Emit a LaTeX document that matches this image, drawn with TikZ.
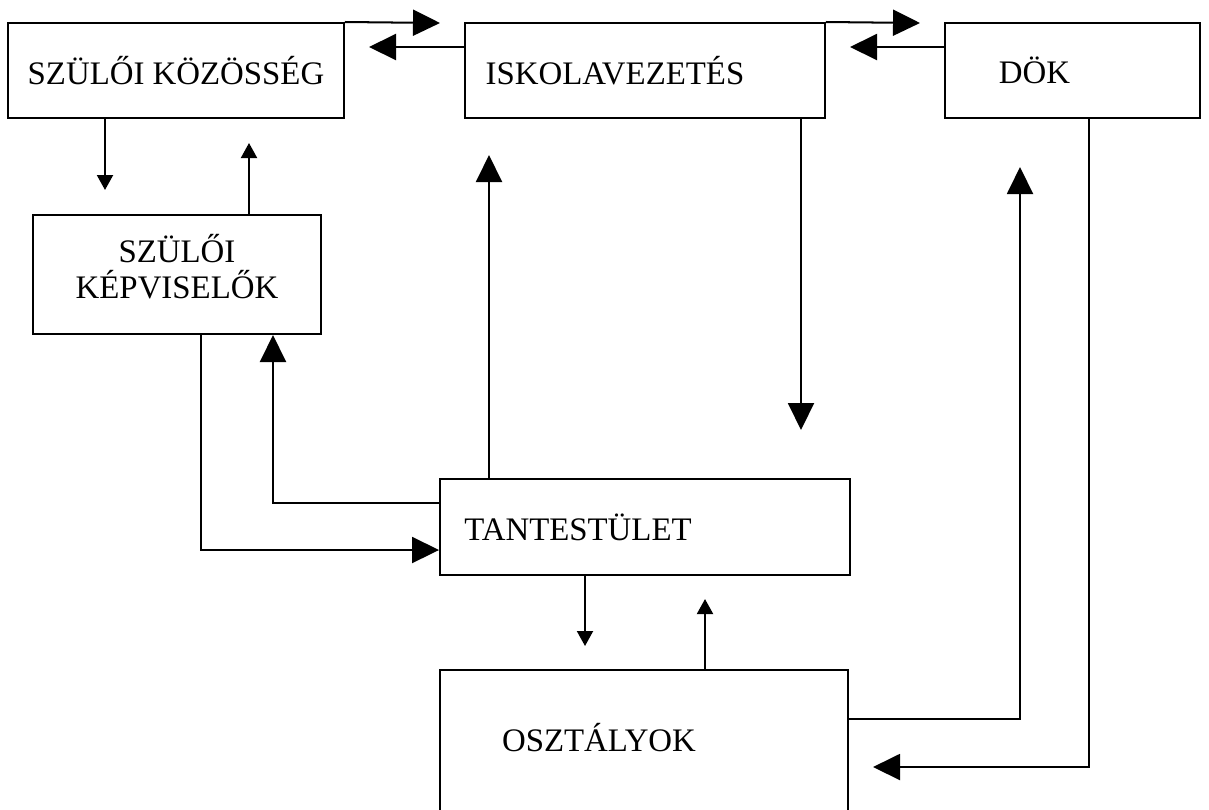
\documentclass[tikz,border=0pt]{standalone}
\usepackage{fontspec}
\setmainfont{Liberation Serif}
\usetikzlibrary{positioning, arrows.meta}

\begin{document}
\begin{tikzpicture}[x=0.02cm, y=-0.02cm, line width=1.15pt,
    font=\fontsize{18.7}{20.5}\selectfont,
    box/.style={draw, rectangle, align=center, inner sep=0pt},
    big/.style={-{Triangle[length=0.54cm, width=0.52cm]}},
    small/.style={-{Triangle[length=0.3cm, width=0.32cm]}}]
    \useasboundingbox (0,0) rectangle (1209,809);

    \node[box, minimum width=6.72cm, minimum height=1.9cm] (szk) at (176,70.5) {SZÜLŐI KÖZÖSSÉG};
    \node[box, minimum width=7.2cm, minimum height=1.9cm, label={[xshift=-0.6cm]center:ISKOLAVEZETÉS}] (isk) at (645,70.5) {};
    \node[box, minimum width=5.1cm, minimum height=1.9cm, label={[xshift=-0.76cm]center:DÖK}] (dok) at (1072.5,70.5) {};
    \node[box, minimum width=5.76cm, minimum height=2.38cm, label={[align=center, yshift=0.15cm]center:SZÜLŐI\\KÉPVISELŐK}] (kep) at (177,274.5) {};
    \node[box, minimum width=8.2cm, minimum height=1.92cm, label={[xshift=-1.34cm]center:TANTESTÜLET}] (tant) at (645,527) {};
    \node[box, minimum width=8.16cm, minimum height=2.84cm, label={[xshift=-0.9cm, yshift=0.06cm]center:OSZTÁLYOK}] (oszt) at (644,741) {};

    \coordinate (t1) at (440,23);
    \coordinate (t2) at (369,47);
    \coordinate (t3) at (920,23);
    \coordinate (t4) at (850,47);
    \coordinate (t5) at (105,190);
    \coordinate (t6) at (249,143);
    \coordinate (t7) at (801,430);
    \coordinate (t8) at (489,155);
    \coordinate (t9) at (585,646);
    \coordinate (t10) at (705,599);
    \coordinate (t11) at (1020,167);
    \coordinate (t12) at (873,767);
    \coordinate (k1) at (201,550);
    \coordinate (k2) at (273,503);
    \coordinate (o1) at (1020,719);
    \coordinate (d1) at (1089,767);

    \draw[big] (szk.north east) -- (t1);
    \draw[big] (isk.west |- t2) -- (t2);
    \draw[big] (isk.north east) -- (t3);
    \draw[big] (dok.west |- t4) -- (t4);
    \draw[small] (szk.south -| t5) -- (t5);
    \draw[small] (kep.north -| t6) -- (t6);
    \draw[big] (isk.south -| t7) -- (t7);
    \draw[big] (tant.north -| t8) -- (t8);
    \draw[big] (kep.south -| k1) -- (k1) -- (tant.west |- k1);
    \draw[big] (tant.west |- k2) -- (k2) -- (kep.south -| k2);
    \draw[small] (tant.south -| t9) -- (t9);
    \draw[small] (oszt.north -| t10) -- (t10);
    \draw[big] (oszt.east |- o1) -- (o1) -- (t11);
    \draw[big] (dok.south -| d1) -- (d1) -- (t12);
\end{tikzpicture}
\end{document}
